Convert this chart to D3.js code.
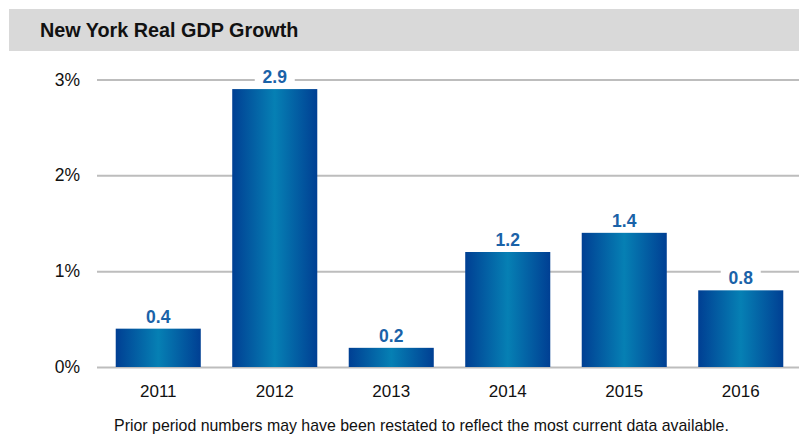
<!DOCTYPE html>
<html>
<head>
<meta charset="utf-8">
<script src="https://cdn.jsdelivr.net/npm/d3@7"></script>
<style>
  html, body { margin: 0; padding: 0; background: #fff; }
  svg { display: block; font-family: "Liberation Sans", Arial, sans-serif; }
</style>
</head>
<body>
<svg id="chart" width="799" height="436"></svg>
<script>
// Annual real GDP growth, New York (percent)
const years = ["2011", "2012", "2013", "2014", "2015", "2016"];
const growth = [0.4, 2.9, 0.2, 1.2, 1.4, 0.8];
const yTicks = [0, 1, 2, 3];

const svg = d3.select("#chart");
const W = 799, H = 436;
const FONT = "Liberation Sans, Arial, sans-serif";

// Title band
svg.append("rect").attr("x", 9).attr("y", 9).attr("width", W - 9).attr("height", 42)
  .attr("fill", "#d9d9d9");
svg.append("text").attr("x", 40).attr("y", 37)
  .attr("font-size", 19.8).attr("font-weight", "bold").attr("fill", "#111")
  .text("New York Real GDP Growth");

// Scales
const x = d3.scaleBand().domain(years).range([100, 799]).paddingInner(0.27).paddingOuter(0.135);
const y = d3.scaleLinear().domain([0, 3]).range([367, 79.5]);

// Bar gradient: dark blue at the edges, lighter teal-blue in the middle
const defs = svg.append("defs");
const grad = defs.append("linearGradient").attr("id", "barGrad")
  .attr("x1", "0%").attr("x2", "100%").attr("y1", "0%").attr("y2", "0%");
grad.append("stop").attr("offset", "0%").attr("stop-color", "#003f93");
grad.append("stop").attr("offset", "50%").attr("stop-color", "#0680b4");
grad.append("stop").attr("offset", "100%").attr("stop-color", "#003f93");

// Gridlines and y-axis labels
const yAxis = d3.axisLeft(y).tickValues(yTicks).tickFormat(d => d + "%")
  .tickSize(-(W - 97)).tickPadding(17);
const gy = svg.append("g").attr("transform", "translate(97,0)").call(yAxis);
gy.select(".domain").remove();
gy.selectAll(".tick line").attr("stroke", "#bdbdbd").attr("stroke-width", 2);
gy.selectAll(".tick text").attr("font-size", 17.5).attr("fill", "#111")
  .attr("font-family", FONT);

// Bars
svg.append("g").selectAll("rect").data(years).join("rect")
  .attr("x", d => x(d))
  .attr("width", x.bandwidth())
  .attr("y", (d, i) => y(growth[i]))
  .attr("height", (d, i) => y(0) - y(growth[i]))
  .attr("fill", "url(#barGrad)");

// Value labels (with a white knock-out behind so gridlines break around them)
const labels = svg.append("g").selectAll("g").data(years).join("g")
  .attr("transform", (d, i) => `translate(${x(d) + x.bandwidth() / 2},${y(growth[i]) - 6})`);
labels.append("rect").attr("x", -20).attr("y", -17).attr("width", 40).attr("height", 20)
  .attr("fill", "#fff");
labels.append("text").attr("text-anchor", "middle")
  .attr("font-size", 17.5).attr("font-weight", "bold").attr("fill", "#1a62a8")
  .text((d, i) => growth[i].toFixed(1));

// X-axis category labels
const xAxis = d3.axisBottom(x).tickSize(0).tickPadding(17.5);
const gx = svg.append("g").attr("transform", "translate(0,367)").call(xAxis);
gx.select(".domain").remove();
gx.selectAll(".tick text").attr("font-size", 17).attr("fill", "#111")
  .attr("font-family", FONT);

// Footnote
svg.append("text").attr("x", 421.5).attr("y", 431).attr("text-anchor", "middle")
  .attr("font-size", 15.9).attr("fill", "#111")
  .text("Prior period numbers may have been restated to reflect the most current data available.");
</script>
</body>
</html>
